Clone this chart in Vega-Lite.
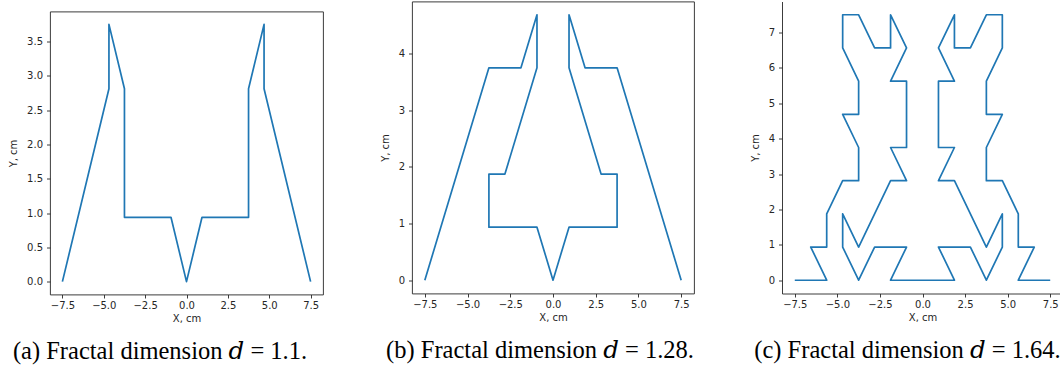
{
  "$schema": "https://vega.github.io/schema/vega-lite/v6.json",
  "padding": {"left": 8, "top": 0.5, "right": 0, "bottom": 0},
  "bounds": "full",
  "align": "each",
  "spacing": 55,
  "config": {
    "view": {"stroke": "#262626", "strokeWidth": 0.9},
    "axis": {"grid": false, "labelFont": "DejaVu Sans", "labelFontSize": 10, "labelColor": "#262626", "titleFont": "DejaVu Sans", "titleFontSize": 10, "titleFontWeight": "normal", "titleColor": "#262626", "tickColor": "#262626", "tickSize": 3.5, "tickWidth": 0.9, "domain": false, "labelFlush": false, "labelOverlap": false},
    "axisX": {"labelPadding": 2, "titlePadding": 3},
    "axisY": {"labelPadding": 4, "titlePadding": 8},
    "title": {"font": "Liberation Serif, DejaVu Serif", "fontSize": 24.5, "fontWeight": "normal", "color": "#000000", "orient": "bottom", "anchor": "middle", "frame": "group", "offset": 17}
  },
  "hconcat": [
    {
      "spacing": 0,
      "bounds": "full",
      "vconcat": [
        {"width": 273, "height": 9, "data": {"values": []}, "mark": {"type": "point", "opacity": 0}, "view": {"stroke": null}},
        {
          "width": 273, "height": 283,
          "title": {"text": "(a) Fractal dimension \ud835\udc51 = 1.1.", "dx": -26.5},
          "data": {"values": [
            {"i": 0, "x": -7.5, "y": 0}, {"i": 1, "x": -4.6875, "y": 2.8125}, {"i": 2, "x": -4.6875, "y": 3.75}, {"i": 3, "x": -3.75, "y": 2.8125}, {"i": 4, "x": -3.75, "y": 0.9375}, {"i": 5, "x": -0.9375, "y": 0.9375}, {"i": 6, "x": 0, "y": 0}, {"i": 7, "x": 0.9375, "y": 0.9375}, {"i": 8, "x": 3.75, "y": 0.9375}, {"i": 9, "x": 3.75, "y": 2.8125}, {"i": 10, "x": 4.6875, "y": 3.75}, {"i": 11, "x": 4.6875, "y": 2.8125}, {"i": 12, "x": 7.5, "y": 0}
          ]},
          "mark": {"type": "line", "color": "#1f77b4", "strokeWidth": 1.7, "strokeJoin": "round"},
          "encoding": {
            "x": {"field": "x", "type": "quantitative", "scale": {"domain": [-8.25, 8.25], "nice": false, "zero": false}, "axis": {"values": [-7.5, -5, -2.5, 0, 2.5, 5, 7.5], "format": ".1f", "title": "X, cm"}},
            "y": {"field": "y", "type": "quantitative", "scale": {"domain": [-0.1875, 3.9375], "nice": false, "zero": false}, "axis": {"values": [0, 0.5, 1, 1.5, 2, 2.5, 3, 3.5], "format": ".1f", "title": "Y, cm"}},
            "order": {"field": "i", "type": "quantitative"}
          }
        }
      ]
    },
    {
      "width": 282, "height": 292,
      "title": {"text": "(b) Fractal dimension \ud835\udc51 = 1.28.", "dx": -13},
      "data": {"values": [
        {"i": 0, "x": -7.5, "y": 0}, {"i": 1, "x": -3.75, "y": 3.75}, {"i": 2, "x": -1.875, "y": 3.75}, {"i": 3, "x": -0.9375, "y": 4.6875}, {"i": 4, "x": -0.9375, "y": 3.75}, {"i": 5, "x": -2.8125, "y": 1.875}, {"i": 6, "x": -3.75, "y": 1.875}, {"i": 7, "x": -3.75, "y": 0.9375}, {"i": 8, "x": -0.9375, "y": 0.9375}, {"i": 9, "x": 0, "y": 0}, {"i": 10, "x": 0.9375, "y": 0.9375}, {"i": 11, "x": 3.75, "y": 0.9375}, {"i": 12, "x": 3.75, "y": 1.875}, {"i": 13, "x": 2.8125, "y": 1.875}, {"i": 14, "x": 0.9375, "y": 3.75}, {"i": 15, "x": 0.9375, "y": 4.6875}, {"i": 16, "x": 1.875, "y": 3.75}, {"i": 17, "x": 3.75, "y": 3.75}, {"i": 18, "x": 7.5, "y": 0}
      ]},
      "mark": {"type": "line", "color": "#1f77b4", "strokeWidth": 1.7, "strokeJoin": "round"},
      "encoding": {
        "x": {"field": "x", "type": "quantitative", "scale": {"domain": [-8.25, 8.25], "nice": false, "zero": false}, "axis": {"values": [-7.5, -5, -2.5, 0, 2.5, 5, 7.5], "format": ".1f", "title": "X, cm"}},
        "y": {"field": "y", "type": "quantitative", "scale": {"domain": [-0.234375, 4.921875], "nice": false, "zero": false}, "axis": {"values": [0, 1, 2, 3, 4], "format": "d", "title": "Y, cm"}},
        "order": {"field": "i", "type": "quantitative"}
      }
    },
    {
      "width": 281, "height": 292,
      "view": {"stroke": null},
      "title": {"text": "(c) Fractal dimension \ud835\udc51 = 1.64.", "dx": -15},
      "data": {"values": [
        {"i": 0, "x": -7.5, "y": 0}, {"i": 1, "x": -5.625, "y": 0}, {"i": 2, "x": -6.5625, "y": 0.9375}, {"i": 3, "x": -5.625, "y": 0.9375}, {"i": 4, "x": -5.625, "y": 1.875}, {"i": 5, "x": -4.6875, "y": 2.8125}, {"i": 6, "x": -3.75, "y": 2.8125}, {"i": 7, "x": -3.75, "y": 3.75}, {"i": 8, "x": -4.6875, "y": 4.6875}, {"i": 9, "x": -3.75, "y": 4.6875}, {"i": 10, "x": -3.75, "y": 5.625}, {"i": 11, "x": -4.6875, "y": 6.5625}, {"i": 12, "x": -4.6875, "y": 7.5}, {"i": 13, "x": -3.75, "y": 7.5}, {"i": 14, "x": -2.8125, "y": 6.5625}, {"i": 15, "x": -1.875, "y": 6.5625}, {"i": 16, "x": -1.875, "y": 7.5}, {"i": 17, "x": -0.9375, "y": 6.5625}, {"i": 18, "x": -1.875, "y": 5.625}, {"i": 19, "x": -0.9375, "y": 5.625}, {"i": 20, "x": -0.9375, "y": 3.75}, {"i": 21, "x": -1.875, "y": 3.75}, {"i": 22, "x": -0.9375, "y": 2.8125}, {"i": 23, "x": -1.875, "y": 2.8125}, {"i": 24, "x": -3.75, "y": 0.9375}, {"i": 25, "x": -4.6875, "y": 1.875}, {"i": 26, "x": -4.6875, "y": 0.9375}, {"i": 27, "x": -3.75, "y": 0}, {"i": 28, "x": -2.8125, "y": 0.9375}, {"i": 29, "x": -0.9375, "y": 0.9375}, {"i": 30, "x": -1.875, "y": 0}, {"i": 31, "x": 0, "y": 0},
        {"i": 32, "x": 1.875, "y": 0}, {"i": 33, "x": 0.9375, "y": 0.9375}, {"i": 34, "x": 2.8125, "y": 0.9375}, {"i": 35, "x": 3.75, "y": 0}, {"i": 36, "x": 4.6875, "y": 0.9375}, {"i": 37, "x": 4.6875, "y": 1.875}, {"i": 38, "x": 3.75, "y": 0.9375}, {"i": 39, "x": 1.875, "y": 2.8125}, {"i": 40, "x": 0.9375, "y": 2.8125}, {"i": 41, "x": 1.875, "y": 3.75}, {"i": 42, "x": 0.9375, "y": 3.75}, {"i": 43, "x": 0.9375, "y": 5.625}, {"i": 44, "x": 1.875, "y": 5.625}, {"i": 45, "x": 0.9375, "y": 6.5625}, {"i": 46, "x": 1.875, "y": 7.5}, {"i": 47, "x": 1.875, "y": 6.5625}, {"i": 48, "x": 2.8125, "y": 6.5625}, {"i": 49, "x": 3.75, "y": 7.5}, {"i": 50, "x": 4.6875, "y": 7.5}, {"i": 51, "x": 4.6875, "y": 6.5625}, {"i": 52, "x": 3.75, "y": 5.625}, {"i": 53, "x": 3.75, "y": 4.6875}, {"i": 54, "x": 4.6875, "y": 4.6875}, {"i": 55, "x": 3.75, "y": 3.75}, {"i": 56, "x": 3.75, "y": 2.8125}, {"i": 57, "x": 4.6875, "y": 2.8125}, {"i": 58, "x": 5.625, "y": 1.875}, {"i": 59, "x": 5.625, "y": 0.9375}, {"i": 60, "x": 6.5625, "y": 0.9375}, {"i": 61, "x": 5.625, "y": 0}, {"i": 62, "x": 7.5, "y": 0}
      ]},
      "mark": {"type": "line", "color": "#1f77b4", "strokeWidth": 1.7, "strokeJoin": "round"},
      "encoding": {
        "x": {"field": "x", "type": "quantitative", "scale": {"domain": [-8.25, 8.25], "nice": false, "zero": false}, "axis": {"values": [-7.5, -5, -2.5, 0, 2.5, 5, 7.5], "format": ".1f", "title": "X, cm", "domain": true, "domainColor": "#262626", "domainWidth": 0.9}},
        "y": {"field": "y", "type": "quantitative", "scale": {"domain": [-0.375, 7.875], "nice": false, "zero": false}, "axis": {"values": [0, 1, 2, 3, 4, 5, 6, 7], "format": "d", "title": "Y, cm", "domain": true, "domainColor": "#262626", "domainWidth": 0.9}},
        "order": {"field": "i", "type": "quantitative"}
      }
    }
  ]
}
